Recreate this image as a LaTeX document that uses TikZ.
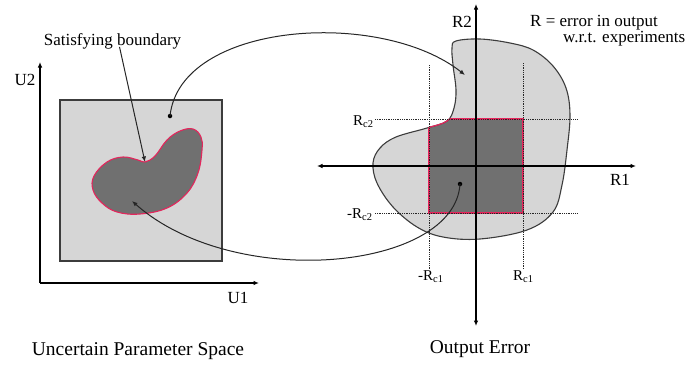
\documentclass[tikz,border=0pt]{standalone}
\usepackage{fontspec}
\setmainfont{Liberation Serif}
\usetikzlibrary{arrows.meta}
\definecolor{boundred}{RGB}{228,38,92}
\definecolor{lightfill}{RGB}{214,214,214}
\definecolor{darkfill}{RGB}{112,112,112}
\definecolor{outline}{RGB}{60,60,60}
\newcommand{\myLblob}{plot[smooth cycle, tension=0.65] coordinates {(180,131) (193,129) (201,137) (202,150) (198,173) (187,193) (167,208) (140,214) (117,212) (102,203) (93,190) (94,176) (107,162) (123,157) (138,160) (145,162) (155,156) (167,140)}}
\newcommand{\myRblob}{plot[smooth cycle, tension=0.6] coordinates {(456,41) (480,39) (510,43) (533,50) (553,66) (566,88) (570,115) (567,150) (562,185) (553,212) (527,230) (480,239) (443,237) (417,227) (393,207) (377,183) (373,163) (380,148) (396,137) (427,128) (447,121) (454,108) (456,90) (453,65) (452,48)}}
\begin{document}
\begin{tikzpicture}[x=1pt,y=-1pt,
  axis/.style={line width=1.2pt, draw=black},
  tip/.style={-{Latex[length=5.5pt,width=4.5pt]}},
  guide/.style={densely dotted, line width=0.8pt, draw=black!85},
  connector/.style={line width=1pt, draw=black!85},
  dotmark/.style={circle, fill=black, inner sep=0pt, minimum size=4.5pt},
  lab/.style={inner sep=0pt, font=\fontsize{17}{20}\selectfont},
  title/.style={inner sep=0pt, font=\fontsize{19.5}{22}\selectfont},
  sublab/.style={inner sep=0pt, font=\fontsize{15}{17}\selectfont}]
\useasboundingbox (0,0) rectangle (690,364);

% ---------------- left panel ----------------
\draw[line width=1.1pt, draw=outline, fill=lightfill] (60,100) rectangle (222,261);
\draw[line width=1.1pt, draw=boundred, fill=darkfill] \myLblob;

\draw[axis, tip] (40,283) -- (40,62);
\draw[axis, tip] (40,283) -- (259,283);
\node[lab, anchor=base] (u2) at (25,85) {U2};
\node[lab, anchor=base] (u1) at (238,303) {U1};

\node[lab, anchor=base] (sat) at (112.5,45) {Satisfying boundary};
\coordinate (dip) at (145,162);
\draw[connector, tip] (sat.south) ++(7,-2) coordinate (satfoot) -- (dip);

\node[title, anchor=base] (ups) at (138,355) {Uncertain Parameter Space};

% ---------------- right panel ----------------
\fill[lightfill] \myRblob;
\begin{scope}
  \clip \myRblob;
  \fill[darkfill] (429,119) rectangle (523,213);
\end{scope}
\draw[line width=1.1pt, draw=outline] \myRblob;
\begin{scope}
  \clip \myRblob;
  \draw[line width=1.2pt, draw=boundred] (429,119) rectangle (523,213);
\end{scope}
\begin{scope}
  \clip (429,119) rectangle (523,213);
  \draw[line width=1.2pt, draw=boundred] \myRblob;
\end{scope}

% guide lines
\draw[guide] (429,65) -- (429,269);
\draw[guide] (523,63) -- (523,269);
\draw[guide] (375,119) -- (577,119);
\draw[guide] (375,213) -- (577,213);

% axes
\draw[axis, {Latex[length=5.5pt,width=4.5pt]}-{Latex[length=5.5pt,width=4.5pt]}] (317,166) -- (636,166);
\draw[axis, {Latex[length=5.5pt,width=4.5pt]}-{Latex[length=5.5pt,width=4.5pt]}] (476,4) -- (476,326);
\node[lab, anchor=base] (r2) at (462,27.5) {R2};
\node[lab, anchor=base] (r1) at (620,185) {R1};

\node[lab, anchor=base west] (rdef1) at (530,27) {R = error in output};
\node[lab, anchor=base west] (rdef2) at (563,42) {w.r.t. experiments};

\node[sublab, anchor=base west] (rc2) at (353,125) {R\textsubscript{c2}};
\node[sublab, anchor=base west] (mrc2) at (347,218) {-R\textsubscript{c2}};
\node[sublab, anchor=base west] (mrc1) at (418,280) {-R\textsubscript{c1}};
\node[sublab, anchor=base west] (rc1) at (513,280) {R\textsubscript{c1}};

\node[title, anchor=base] (oe) at (480,353) {Output Error};

% ---------------- connectors ----------------
\node[dotmark] (p1) at (170,116) {};
\coordinate (q1) at (465,75);
\draw[connector, tip] (p1.center) .. controls (180,22) and (380,8) .. (q1);

\node[dotmark] (p2) at (460,184) {};
\coordinate (q2) at (132,201);
\draw[connector, tip] (p2.center) .. controls (455,270) and (235,292) .. (q2);
\end{tikzpicture}
\end{document}
